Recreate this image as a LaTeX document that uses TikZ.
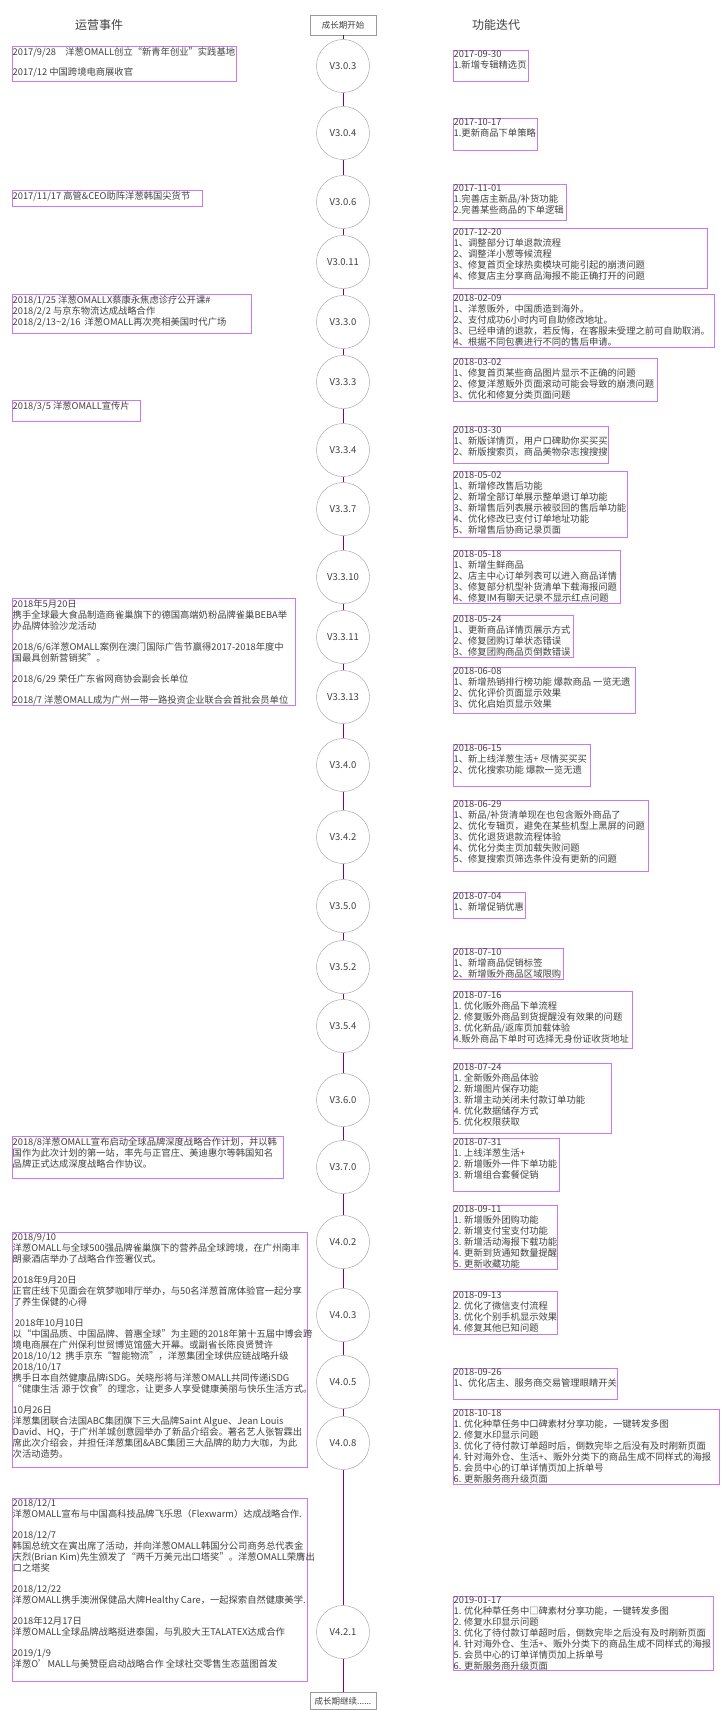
\documentclass[tikz,border=0pt]{standalone}
\usepackage{fontspec}
\setmainfont{Noto Sans CJK SC}
\begin{document}
\begin{tikzpicture}[x=1pt,y=-1pt,
  frame/.style={draw=boxc,line width=0.8pt,inner sep=0pt,rectangle},
  txt/.style={inner sep=0pt,align=left,text=txtc,font=\fontsize{9.3}{11}\selectfont},
  ver/.style={draw=gray!80,circle,minimum size=53pt,inner sep=0pt,text=txtc,font=\fontsize{9.5}{11}\selectfont},
  endbox/.style={draw=gray!80,rectangle,inner sep=0pt,text=txtc,font=\fontsize{8.5}{10}\selectfont},
  link/.style={draw=linkc,line width=1pt},
  title/.style={text=txtc,font=\fontsize{12}{14}\selectfont}]
\definecolor{boxc}{HTML}{CC77EE}
\definecolor{txtc}{HTML}{404040}
\definecolor{linkc}{HTML}{800080}
\useasboundingbox (0,0) rectangle (720,1710);
\newcommand\tbox[6]{%
  \node[frame,anchor=north west,minimum width={(#4-#2)*1pt},minimum height={(#5-#3)*1pt}] (#1) at (#2,#3) {};
  \node[txt,anchor=north west] (#1t) at ([xshift=0.5pt,yshift=-1pt]#1.north west) {#6};}
% titles
\node[title] (lt) at (99,25) {运营事件};
\node[title] (rt) at (496,25) {功能迭代};
\node[endbox,minimum width=66pt,minimum height=20pt] (start) at (343,25) {成长期开始};
\node[endbox,minimum width=66pt,minimum height=17pt] (end) at (343,1701) {成长期继续......};
% versions
\foreach \n/\v/\y in {a/V3.0.3/66,b/V3.0.4/133,c/V3.0.6/202,d/V3.0.11/262,e/V3.3.0/322,f/V3.3.3/382,g/V3.3.4/450,h/V3.3.7/509,i/V3.3.10/577,j/V3.3.11/637,k/V3.3.13/697,l/V3.4.0/765,m/V3.4.2/837,n/V3.5.0/906,o/V3.5.2/967,p/V3.5.4/1026,q/V3.6.0/1100,r/V3.7.0/1167,s/V4.0.2/1242,t/V4.0.3/1315,u/V4.0.5/1382,v/V4.0.8/1443,w/V4.2.1/1632}
  {\node[ver] (\n) at (343,\y) {\v};}
\draw[link] (start) -- (a);
\foreach \p/\q in {a/b,b/c,c/d,d/e,e/f,f/g,g/h,h/i,i/j,j/k,k/l,l/m,m/n,n/o,o/p,p/q,q/r,r/s,s/t,t/u,u/v,v/w}
  {\draw[link] (\p) -- (\q);}
\draw[link] (w) -- (end);
% left events
\tbox{L1}{12}{46}{236}{81}{2017/9/28\quad 洋葱OMALL创立“新青年创业”实践基地\\[9pt]2017/12 中国跨境电商展收官}
\tbox{L2}{12}{190}{202}{206}{2017/11/17 高管\&CEO助阵洋葱韩国尖货节}
\tbox{L3}{12}{294}{251}{333}{2018/1/25 洋葱OMALLX蔡康永焦虑诊疗公开课\#\\2018/2/2 与京东物流达成战略合作\\2018/2/13\textasciitilde 2/16\ \ 洋葱OMALL再次亮相美国时代广场}
\tbox{L4}{12}{400}{140}{421}{2018/3/5 洋葱OMALL宣传片}
\tbox{L5}{12}{598}{295}{705}{2018年5月20日\\携手全球最大食品制造商雀巢旗下的德国高端奶粉品牌雀巢BEBA举\\办品牌体验沙龙活动\\[10pt]2018/6/6洋葱OMALL案例在澳门国际广告节赢得2017-2018年度中\\国最具创新营销奖”。\\[10pt]2018/6/29 荣任广东省网商协会副会长单位\\[10pt]2018/7 洋葱OMALL成为广州一带一路投资企业联合会首批会员单位}
\tbox{L6}{12}{1136}{283}{1178}{2018/8洋葱OMALL宣布启动全球品牌深度战略合作计划，并以韩\\国作为此次计划的第一站，率先与正官庄、美迪惠尔等韩国知名\\品牌正式达成深度战略合作协议。}
\tbox{L7}{12}{1232}{307}{1467}{2018/9/10\\洋葱OMALL与全球500强品牌雀巢旗下的营养品全球跨境，在广州南丰\\朗豪酒店举办了战略合作签署仪式。\\[10pt]2018年9月20日\\正官庄线下见面会在筑梦咖啡厅举办，与50名洋葱首席体验官一起分享\\了养生保健的心得\\[10pt]\ 2018年10月10日\\以“中国品质、中国品牌、普惠全球”为主题的2018年第十五届中博会跨\\境电商展在广州保利世贸博览馆盛大开幕。或副省长陈良贤赞许\\2018/10/12\ \ 携手京东“智能物流”，洋葱集团全球供应链战略升级\\2018/10/17\\携手日本自然健康品牌iSDG。关晓彤将与洋葱OMALL共同传递iSDG\\“健康生活 源于饮食”的理念，让更多人享受健康美丽与快乐生活方式。\\[10pt]10月26日\\洋葱集团联合法国ABC集团旗下三大品牌Saint Algue、Jean Louis\\David、HQ，于广州羊城创意园举办了新品介绍会。著名艺人张智霖出\\席此次介绍会，并担任洋葱集团\&ABC集团三大品牌的助力大咖，为此\\次活动造势。}
\tbox{L8}{12}{1498}{307}{1681}{2018/12/1\\洋葱OMALL宣布与中国高科技品牌飞乐思（Flexwarm）达成战略合作.\\[10pt]2018/12/7\\韩国总统文在寅出席了活动，并向洋葱OMALL韩国分公司商务总代表金\\庆烈(Brian Kim)先生颁发了“两千万美元出口塔奖”。洋葱OMALL荣膺出\\口之塔奖\\[10pt]2018/12/22\\洋葱OMALL携手澳洲保健品大牌Healthy Care，一起探索自然健康美学.\\[10pt]2018年12月17日\\洋葱OMALL全球品牌战略挺进泰国，与乳胶大王TALATEX达成合作\\[10pt]2019/1/9\\洋葱O'MALL与美赞臣启动战略合作 全球社交零售生态蓝图首发}
% right features
\tbox{R1}{453}{50}{528}{81}{2017-09-30\\1.新增专辑精选页}
\tbox{R2}{453}{118}{537}{150}{2017-10-17\\1.更新商品下单策略}
\tbox{R3}{453}{184}{566}{220}{2017-11-01\\1.完善店主新品/补货功能\\2.完善某些商品的下单逻辑}
\tbox{R4}{453}{228}{707}{288}{2017-12-20\\1、调整部分订单退款流程\\2、调整洋小葱等候流程\\3、修复首页全球热卖模块可能引起的崩溃问题\\4、修复店主分享商品海报不能正确打开的问题}
\tbox{R5}{453}{294}{714}{347}{2018-02-09\\1、洋葱贩外，中国质造到海外。\\2、支付成功6小时内可自助修改地址。\\3、已经申请的退款，若反悔，在客服未受理之前可自助取消。\\4、根据不同包裹进行不同的售后申请。}
\tbox{R6}{453}{358}{657}{401}{2018-03-02\\1、修复首页某些商品图片显示不正确的问题\\2、修复洋葱贩外页面滚动可能会导致的崩溃问题\\3、优化和修复分类页面问题}
\tbox{R7}{453}{426}{608}{463}{2018-03-30\\1、新版详情页，用户口碑助你买买买\\2、新版搜索页，商品美物杂志搜搜搜}
\tbox{R8}{453}{471}{627}{537}{2018-05-02\\1、新增修改售后功能\\2、新增全部订单展示整单退订单功能\\3、新增售后列表展示被驳回的售后单功能\\4、优化修改已支付订单地址功能\\5、新增售后协商记录页面}
\tbox{R9}{453}{550}{620}{603}{2018-05-18\\1、新增生鲜商品\\2、店主中心订单列表可以进入商品详情\\3、修复部分机型补货清单下载海报问题\\4、修复IM有聊天记录不显示红点问题}
\tbox{R10}{453}{615}{573}{657}{2018-05-24\\1、更新商品详情页展示方式\\2、修复团购订单状态错误\\3、修复团购商品页倒数错误}
\tbox{R11}{453}{667}{635}{713}{2018-06-08\\1、新增热销排行榜功能 爆款商品 一览无遗\\2、优化评价页面显示效果\\3、优化启始页显示效果}
\tbox{R12}{453}{744}{590}{786}{2018-06-15\\1、新上线洋葱生活+ 尽情买买买\\2、优化搜索功能 爆款一览无遗}
\tbox{R13}{453}{800}{648}{871}{2018-06-29\\1、新品/补货清单现在也包含贩外商品了\\2、优化专辑页，避免在某些机型上黑屏的问题\\3、优化退货退款流程体验\\4、优化分类主页加载失败问题\\5、修复搜索页筛选条件没有更新的问题}
\tbox{R14}{453}{892}{525}{918}{2018-07-04\\1、新增促销优惠}
\tbox{R15}{453}{948}{563}{979}{2018-07-10\\1、新增商品促销标签\\2、新增贩外商品区域限购}
\tbox{R16}{453}{991}{632}{1048}{2018-07-16\\1. 优化贩外商品下单流程\\2. 修复贩外商品到货提醒没有效果的问题\\3. 优化新品/返库页加载体验\\4.贩外商品下单时可选择无身份证收货地址}
\tbox{R17}{453}{1063}{611}{1133}{2018-07-24\\1. 全新贩外商品体验\\2. 新增图片保存功能\\3. 新增主动关闭未付款订单功能\\4. 优化数据储存方式\\5. 优化权限获取}
\tbox{R18}{453}{1138}{559}{1191}{2018-07-31\\1. 上线洋葱生活+\\2. 新增贩外一件下单功能\\3. 新增组合套餐促销}
\tbox{R19}{453}{1205}{557}{1269}{2018-09-11\\1. 新增贩外团购功能\\2. 新增支付宝支付功能\\3. 新增活动海报下载功能\\4. 更新到货通知数量提醒\\5. 更新收藏功能}
\tbox{R20}{453}{1291}{557}{1334}{2018-09-13\\2. 优化了微信支付流程\\3. 优化个别手机显示效果\\4. 修复其他已知问题}
\tbox{R21}{453}{1368}{617}{1399}{2018-09-26\\1、优化店主、服务商交易管理眼睛开关}
\tbox{R22}{453}{1409}{719}{1484}{2018-10-18\\1. 优化种草任务中口碑素材分享功能，一键转发多图\\2. 修复水印显示问题\\3. 优化了待付款订单超时后，倒数完毕之后没有及时刷新页面\\4. 针对海外仓、生活+、贩外分类下的商品生成不同样式的海报\\5. 会员中心的订单详情页加上拆单号\\6. 更新服务商升级页面}
\tbox{R23}{453}{1596}{713}{1670}{2019-01-17\\1. 优化种草任务中□碑素材分享功能，一键转发多图\\2. 修复水印显示问题\\3. 优化了待付款订单超时后，倒数完毕之后没有及时刷新页面\\4. 针对海外仓、生活+、贩外分类下的商品生成不同样式的海报\\5. 会员中心的订单详情页加上拆单号\\6. 更新服务商升级页面}
\end{tikzpicture}
\end{document}
